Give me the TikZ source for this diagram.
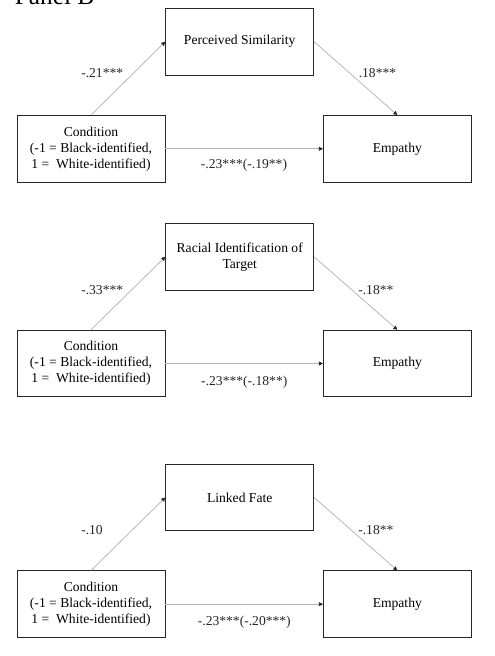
\documentclass[tikz,border=0pt]{standalone}
\usepackage{fontspec}
\setmainfont{Liberation Serif}
\usepackage{tikz}
\usetikzlibrary{
  arrows.meta,
  positioning
}
\colorlet{ink}{black!85}
\colorlet{pathGray}{black!30}
\tikzset{
  path/.style={-{Triangle[length=3pt,width=3pt,color=ink]}, draw=pathGray, line width=0.55pt},
  varbox/.style={
    draw=ink,
    fill=white,
    line width=0.6pt,
    minimum width=111pt,
    minimum height=50pt,
    inner sep=2pt,
    align=center,
    font=\fontsize{10.2}{12}\selectfont
  },
  coef/.style={inner sep=0pt, font=\fontsize{10.2}{12}\selectfont, text=ink}
}
\newcommand{\CondText}{Condition\\(-1 = Black-identified,\\1 = \ White-identified)}

\begin{document}
\begin{tikzpicture}[x=0.75pt,y=-0.75pt]
  \useasboundingbox (0,0) rectangle (494,656);
  \node[anchor=base west, inner sep=0pt, font=\fontsize{19}{22}\selectfont] (title) at (14.5,5) {Panel B};

  % perceived similarity
  \node[varbox] (med1) at (239.7,41.7) {Perceived Similarity};
  \node[varbox] (cond1) at (91,148.8) {\CondText};
  \node[varbox] (emp1) at (397.3,148.8) {Empathy};
  \draw[path] (cond1.north) -- (med1.west);
  \draw[path] (med1.east) -- (emp1.north);
  \draw[path] (cond1.east) -- (emp1.west);
  \node[coef, anchor=west] (a1) at (81,72.7) {-.21***};
  \node[coef, anchor=west] (b1) at (358.5,72.7) {.18***};
  \node[coef] (c1) at (244,165.7) {-.23***(-.19**)};

  % racial identification
  \node[varbox] (med2) at (239.7,256.8) {Racial Identification of\\Target};
  \node[varbox] (cond2) at (91,363.5) {\CondText};
  \node[varbox] (emp2) at (397.3,363.5) {Empathy};
  \draw[path] (cond2.north) -- (med2.west);
  \draw[path] (med2.east) -- (emp2.north);
  \draw[path] (cond2.east) -- (emp2.west);
  \node[coef, anchor=west] (a2) at (81,290) {-.33***};
  \node[coef, anchor=west] (b2) at (358,290) {-.18**};
  \node[coef] (c2) at (244.3,382.7) {-.23***(-.18**)};

  % linked fate
  \node[varbox] (med3) at (239.7,497.5) {Linked Fate};
  \node[varbox] (cond3) at (91,604.2) {\CondText};
  \node[varbox] (emp3) at (397.3,604.2) {Empathy};
  \draw[path] (cond3.north) -- (med3.west);
  \draw[path] (med3.east) -- (emp3.north);
  \draw[path] (cond3.east) -- (emp3.west);
  \node[coef, anchor=west] (a3) at (81,530) {-.10};
  \node[coef, anchor=west] (b3) at (358,530) {-.18**};
  \node[coef] (c3) at (244.3,622.7) {-.23***(-.20***)};
\end{tikzpicture}
\end{document}
